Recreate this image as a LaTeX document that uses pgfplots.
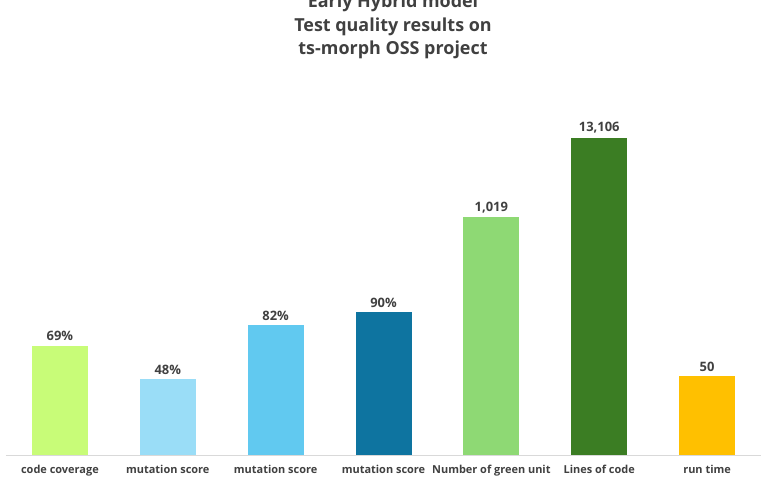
\documentclass[border=0pt]{standalone}
\usepackage{pgfplots}
\pgfplotsset{compat=1.18}
\usepackage{fontspec}
\setmainfont{Open Sans}
\definecolor{txt}{HTML}{404040}
\definecolor{c1}{HTML}{C8FC78}
\definecolor{c2}{HTML}{9ADDF7}
\definecolor{c3}{HTML}{61C9F0}
\definecolor{c4}{HTML}{0E74A0}
\definecolor{c5}{HTML}{8ED974}
\definecolor{c6}{HTML}{3B7D23}
\definecolor{c7}{HTML}{FFC000}
\begin{document}
\begin{tikzpicture}[x=1bp,y=1bp]
\useasboundingbox (-6bp,-25bp) rectangle (762bp,455bp);
\begin{axis}[
  scale only axis, width=755bp, height=396.25bp,
  xmin=-0.5, xmax=6.5, ymin=0, ymax=250,
  ybar, bar width=56bp, bar shift=0pt,
  axis x line*=bottom, axis y line=none,
  x axis line style={draw=black!15, line width=0.8pt},
  xtick={0,...,6}, xtick style={draw=none},
  xticklabels={code coverage, mutation score, mutation score, mutation score, Number of green unit, Lines of code, run time},
  xticklabel style={font=\fontsize{11}{13}\selectfont\bfseries, text=txt, yshift=-2bp},
  point meta=explicit symbolic,
  nodes near coords,
  nodes near coords style={font=\fontsize{13}{15}\selectfont\bfseries, text=txt, yshift=1bp},
  clip=false,
]
\addplot[draw=none, fill=c1] coordinates {(0,69) [69\%]};
\addplot[draw=none, fill=c2] coordinates {(1,48) [48\%]};
\addplot[draw=none, fill=c3] coordinates {(2,82) [82\%]};
\addplot[draw=none, fill=c4] coordinates {(3,90) [90\%]};
\addplot[draw=none, fill=c5] coordinates {(4,150) [{1,019}]};
\addplot[draw=none, fill=c6] coordinates {(5,200) [{13,106}]};
\addplot[draw=none, fill=c7] coordinates {(6,50) [50]};
\end{axis}
\begin{scope}[every node/.style={font=\fontsize{18}{20}\selectfont\bfseries, text=txt}]
\node at (387bp,452bp) {Early Hybrid model};
\node at (387bp,428bp) {Test quality results on};
\node at (387bp,405bp) {ts-morph OSS project};
\end{scope}
\end{tikzpicture}
\end{document}
